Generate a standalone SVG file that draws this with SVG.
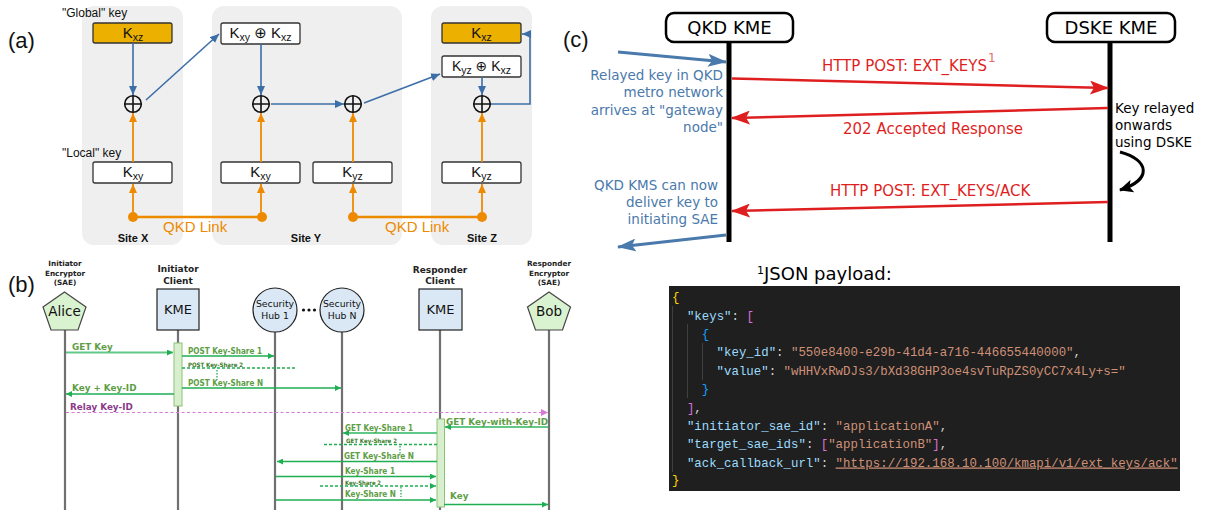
<svg xmlns="http://www.w3.org/2000/svg" width="1206" height="510" viewBox="0 0 1206 510">
<defs>
  <marker id="ahBlueA" markerUnits="userSpaceOnUse" markerWidth="9" markerHeight="8" refX="9" refY="4" orient="auto"><path d="M0,0 L9,4 L0,8 z" fill="#3C6EA8"/></marker>
  <marker id="ahOrange" markerUnits="userSpaceOnUse" markerWidth="9" markerHeight="8" refX="9" refY="4" orient="auto"><path d="M0,0 L9,4 L0,8 z" fill="#EE8A00"/></marker>
  <marker id="ahGreen" markerUnits="userSpaceOnUse" markerWidth="6" markerHeight="6" refX="6" refY="3" orient="auto"><path d="M0,0 L6,3 L0,6 z" fill="#1FAE52"/></marker>
  <marker id="ahPink" markerUnits="userSpaceOnUse" markerWidth="7" markerHeight="7" refX="7" refY="3.5" orient="auto"><path d="M0,0 L7,3.5 L0,7 z" fill="#D77BD7"/></marker>
  <marker id="ahRed" markerUnits="userSpaceOnUse" markerWidth="19" markerHeight="14" refX="18" refY="7" orient="auto"><path d="M0,0 L19,7 L0,14 L4,7 z" fill="#DF1F1F"/></marker>
  <marker id="ahBlueC" markerUnits="userSpaceOnUse" markerWidth="19" markerHeight="13" refX="18" refY="6.5" orient="auto"><path d="M0,0 L19,6.5 L0,13 L4,6.5 z" fill="#4A79AC"/></marker>
  <marker id="ahBlack" markerUnits="userSpaceOnUse" markerWidth="14" markerHeight="13" refX="13" refY="6.5" orient="auto"><path d="M0,0 L14,6.5 L0,13 L3,6.5 z" fill="#000"/></marker>
</defs>
<style>
  .panel{font-family:"Liberation Sans",Arial,sans-serif;font-size:22px;fill:#111}
  .site{fill:#EFEFEF}
  .kbox{fill:#fff;stroke:#333;stroke-width:1.3}
  .kgold{fill:#EBB000;stroke:#333;stroke-width:1.3}
  .kt{font-family:"Liberation Sans","DejaVu Sans",sans-serif;font-size:15px;fill:#111;text-anchor:middle}
  .sub{font-size:10.5px}
  .xor circle{fill:none;stroke:#111;stroke-width:1.6}
  .xor path{stroke:#111;stroke-width:1.6}
  .bl{stroke:#3C6EA8;stroke-width:1.6;fill:none}
  .orl{stroke:#EE8A00;stroke-width:1.8;fill:none}
  .link{stroke:#EE8A00;stroke-width:2.6}
  .odot{fill:#EE8A00}
  .lab{font-family:"Liberation Sans",Arial,sans-serif;font-size:12px;fill:#111}
  .sitet{font-family:"Liberation Sans",Arial,sans-serif;font-weight:bold;font-size:11px;fill:#111;text-anchor:middle}
  .qkd{font-family:"Liberation Sans",Arial,sans-serif;font-size:15px;fill:#EE8A00}
  .life{stroke:#707070;stroke-width:2.2}
  .act{fill:#D8EFCD;stroke:#8DC27B;stroke-width:1}
  .msg{stroke:#1FAE52;stroke-width:1.3;fill:none}
  .msgl{stroke:#62C887;stroke-width:2;fill:none}
  .dash{stroke-dasharray:3,2}
  .vdot{stroke:#1FAE52;stroke-width:1.3;stroke-dasharray:1.5,1.5}
  .relay{stroke:#D77BD7;stroke-width:1.2;stroke-dasharray:3,2.5;fill:none}
  .ml{font-family:"DejaVu Sans",Verdana,sans-serif;font-weight:bold;font-size:8.8px;fill:#5E9E45}
  .ms{font-size:8.4px}
  .mt{font-size:6px;fill:#3A7A28}
  .rl{fill:#8B3A8B}
  .hd{font-family:"DejaVu Sans",Verdana,sans-serif;font-weight:bold;text-anchor:middle;fill:#222}
  .nt{font-family:"DejaVu Sans",Verdana,sans-serif;text-anchor:middle;fill:#111}
  .kme{fill:#DAE8F5;stroke:#222;stroke-width:1.2}
  .hub{fill:#DAE8F5;stroke:#222;stroke-width:1.2}
  .sae{fill:#D9F2D0;stroke:#444;stroke-width:1.2}
  .hdr{fill:#fff;stroke:#000;stroke-width:2.5}
  .hdrt{font-family:"DejaVu Sans",Verdana,sans-serif;font-size:18px;fill:#000;text-anchor:middle}
  .thick{stroke:#000;stroke-width:5}
  .red{stroke:#DF1F1F;stroke-width:2.5;fill:none}
  .redt{font-family:"DejaVu Sans",Verdana,sans-serif;font-size:15px;fill:#DF1F1F}
  .bluec{stroke:#4A79AC;stroke-width:3;fill:none}
  .bluet{font-family:"DejaVu Sans",Verdana,sans-serif;font-size:13.5px;fill:#4A79AC;text-anchor:end}
  .blackt{font-family:"DejaVu Sans",Verdana,sans-serif;font-size:13.5px;fill:#000}
  .code{font-family:"Liberation Mono","DejaVu Sans Mono",monospace;font-size:12.4px;fill:#D4D4D4}
  .k{fill:#9CDCFE}
  .s{fill:#CE9178}
  .b1{fill:#FFD700}
  .b2{fill:#DA70D6}
  .b3{fill:#179FFF}
  .guide{stroke:#404040;stroke-width:1}
</style>

<!-- ================= (a) trusted-node key relay ================= -->
<text class="panel" x="8" y="48">(a)</text>
<g id="site-x">
  <rect class="site" x="82" y="6" width="101" height="239" rx="12"/>
  <text class="sitet" x="133" y="242">Site X</text>
</g>
<g id="site-y">
  <rect class="site" x="212" y="6" width="190" height="239" rx="12"/>
  <text class="sitet" x="306" y="242">Site Y</text>
</g>
<g id="site-z">
  <rect class="site" x="431" y="6" width="101" height="239" rx="12"/>
  <text class="sitet" x="482" y="242">Site Z</text>
</g>

<text class="lab" x="62" y="17">"Global" key</text>
<text class="lab" x="62" y="157">"Local" key</text>

<g id="x-kxz">
  <rect class="kgold" x="93" y="23" width="79" height="20" rx="2"/>
  <text class="kt" x="133" y="38">K<tspan class="sub" dy="3">xz</tspan></text>
</g>
<g id="x-kxy">
  <rect class="kbox" x="93" y="162" width="79" height="21" rx="2"/>
  <text class="kt" x="133" y="177">K<tspan class="sub" dy="3">xy</tspan></text>
</g>
<g id="y-kxy-kxz">
  <rect class="kbox" x="221" y="23" width="79" height="21" rx="2"/>
  <text class="kt" x="260.5" y="38">K<tspan class="sub" dy="3">xy</tspan><tspan dy="-3"> ⊕ K</tspan><tspan class="sub" dy="3">xz</tspan></text>
</g>
<g id="y-kxy">
  <rect class="kbox" x="221" y="162" width="79" height="21" rx="2"/>
  <text class="kt" x="260.5" y="177">K<tspan class="sub" dy="3">xy</tspan></text>
</g>
<g id="y-kyz">
  <rect class="kbox" x="313" y="162" width="79" height="21" rx="2"/>
  <text class="kt" x="352.5" y="177">K<tspan class="sub" dy="3">yz</tspan></text>
</g>
<g id="z-kxz">
  <rect class="kgold" x="442" y="23" width="79" height="20" rx="2"/>
  <text class="kt" x="481.5" y="38">K<tspan class="sub" dy="3">xz</tspan></text>
</g>
<g id="z-kyz-kxz">
  <rect class="kbox" x="442" y="56" width="79" height="21" rx="2"/>
  <text class="kt" x="481.5" y="71" style="font-size:14px">K<tspan class="sub" dy="3">yz</tspan><tspan dy="-3"> ⊕ K</tspan><tspan class="sub" dy="3">xz</tspan></text>
</g>
<g id="z-kyz">
  <rect class="kbox" x="442" y="162" width="79" height="21" rx="2"/>
  <text class="kt" x="481.5" y="177">K<tspan class="sub" dy="3">yz</tspan></text>
</g>

<g id="xor-x" class="xor"><circle cx="133" cy="104" r="8.3"/><path d="M124.7,104H141.3M133,95.7V112.3"/></g>
<g id="xor-y1" class="xor"><circle cx="261" cy="104" r="8.3"/><path d="M252.7,104H269.3M261,95.7V112.3"/></g>
<g id="xor-y2" class="xor"><circle cx="353" cy="104" r="8.3"/><path d="M344.7,104H361.3M353,95.7V112.3"/></g>
<g id="xor-z" class="xor"><circle cx="482" cy="104" r="8.3"/><path d="M473.7,104H490.3M482,95.7V112.3"/></g>

<g id="qkd-links">
  <path class="link" d="M133,217H262M353,217H482"/>
  <circle class="odot" cx="133" cy="217" r="5"/>
  <circle class="odot" cx="262" cy="217" r="5"/>
  <circle class="odot" cx="353" cy="217" r="5"/>
  <circle class="odot" cx="482" cy="217" r="5"/>
  <text class="qkd" x="163" y="232">QKD Link</text>
  <text class="qkd" x="385" y="232">QKD Link</text>
</g>

<g id="connectors-a">
  <path class="bl" d="M133,43V95" marker-end="url(#ahBlueA)"/>
  <path class="orl" d="M133,162V113" marker-end="url(#ahOrange)"/>
  <path class="orl" d="M133,212V184" marker-end="url(#ahOrange)"/>
  <path class="bl" d="M146,100L219,34" marker-end="url(#ahBlueA)"/>
  <path class="bl" d="M261,44V95" marker-end="url(#ahBlueA)"/>
  <path class="orl" d="M261,162V113" marker-end="url(#ahOrange)"/>
  <path class="orl" d="M261,212V184" marker-end="url(#ahOrange)"/>
  <path class="bl" d="M271,104H344" marker-end="url(#ahBlueA)"/>
  <path class="orl" d="M353,162V113" marker-end="url(#ahOrange)"/>
  <path class="orl" d="M353,212V184" marker-end="url(#ahOrange)"/>
  <path class="bl" d="M364,103L440,74" marker-end="url(#ahBlueA)"/>
  <path class="bl" d="M482,77V95" marker-end="url(#ahBlueA)"/>
  <path class="orl" d="M482,162V113" marker-end="url(#ahOrange)"/>
  <path class="orl" d="M482,212V184" marker-end="url(#ahOrange)"/>
  <path class="bl" d="M491,104H530V34H522" marker-end="url(#ahBlueA)"/>
</g>

<!-- ================= (b) DSKE message sequence ================= -->
<text class="panel" x="8" y="292">(b)</text>

<g id="lifelines-b">
  <path class="life" d="M65,330V510M178,330V510M275,332V510M342,332V510M440,330V510M549,330V510"/>
</g>

<g id="alice">
  <text class="hd" style="font-size:7.3px"><tspan x="65" y="266">Initiator</tspan><tspan x="65" y="276">Encryptor</tspan><tspan x="65" y="285">(SAE)</tspan></text>
  <polygon class="sae" points="64.5,292 86,307 78,330 51,330 43,307"/>
  <text class="nt" x="64.5" y="316" style="font-size:13.5px">Alice</text>
</g>
<g id="kme-initiator">
  <text class="hd" style="font-size:9px"><tspan x="178" y="272">Initiator</tspan><tspan x="178" y="284">Client</tspan></text>
  <rect class="kme" x="157" y="289" width="42" height="41"/>
  <text class="nt" x="178" y="314" style="font-size:13px">KME</text>
</g>
<g id="hub-1">
  <circle class="hub" cx="275" cy="310" r="22"/>
  <text class="nt" style="font-size:9.3px"><tspan x="275" y="307">Security</tspan><tspan x="275" y="319">Hub 1</tspan></text>
</g>
<g id="hub-ellipsis">
  <circle cx="303.5" cy="310" r="1.6" fill="#111"/>
  <circle cx="309" cy="310" r="1.6" fill="#111"/>
  <circle cx="314.5" cy="310" r="1.6" fill="#111"/>
</g>
<g id="hub-n">
  <circle class="hub" cx="342" cy="310" r="22"/>
  <text class="nt" style="font-size:9.3px"><tspan x="342" y="307">Security</tspan><tspan x="342" y="319">Hub N</tspan></text>
</g>
<g id="kme-responder">
  <text class="hd" style="font-size:9px"><tspan x="440" y="273">Responder</tspan><tspan x="440" y="284">Client</tspan></text>
  <rect class="kme" x="419" y="289" width="43" height="41"/>
  <text class="nt" x="440.5" y="314" style="font-size:13px">KME</text>
</g>
<g id="bob">
  <text class="hd" style="font-size:7.3px"><tspan x="549" y="266">Responder</tspan><tspan x="549" y="276">Encryptor</tspan><tspan x="549" y="285">(SAE)</tspan></text>
  <polygon class="sae" points="549,292 570.5,307 562.5,330 535.5,330 527.5,307"/>
  <text class="nt" x="549" y="316" style="font-size:13.5px">Bob</text>
</g>

<g id="activations">
  <rect class="act" x="174" y="343" width="8" height="63"/>
  <rect class="act" x="437" y="419" width="7.5" height="88"/>
</g>

<g id="messages-b">
  <path class="msgl" d="M66,352.5H173" marker-end="url(#ahGreen)"/>
  <path class="msg" d="M182,356H274" marker-end="url(#ahGreen)"/>
  <path class="msg dash" d="M182,368H295"/>
  <path class="vdot" d="M217,370V378"/>
  <path class="msg" d="M182,388H341" marker-end="url(#ahGreen)"/>
  <path class="msg" d="M174,394H66" marker-end="url(#ahGreen)"/>
  <path class="relay" d="M66,412.5H548" marker-end="url(#ahPink)"/>
  <path class="msgl" d="M548,427H445" marker-end="url(#ahGreen)"/>
  <path class="msgl" d="M437,433H343" marker-end="url(#ahGreen)"/>
  <path class="msg dash" d="M437,444.5H322"/>
  <path class="vdot" d="M400,446V455"/>
  <path class="msg" d="M437,461.5H277" marker-end="url(#ahGreen)"/>
  <path class="msg" d="M276,476.5H436" marker-end="url(#ahGreen)"/>
  <path class="msg dash" d="M320,486H436" marker-end="url(#ahGreen)"/>
  <path class="vdot" d="M401,487V497"/>
  <path class="msg" d="M276,500H436" marker-end="url(#ahGreen)"/>
  <path class="msg" d="M444,504.5H548" marker-end="url(#ahGreen)"/>
</g>
<g id="message-labels-b">
  <text class="ml" x="72" y="350">GET Key</text>
  <text class="ml ms" x="188" y="354" textLength="74" lengthAdjust="spacingAndGlyphs">POST Key-Share 1</text>
  <text class="ml mt" x="188" y="367" textLength="55" lengthAdjust="spacingAndGlyphs">POST Key-Share 2</text>
  <text class="ml ms" x="188" y="386" textLength="75" lengthAdjust="spacingAndGlyphs">POST Key-Share N</text>
  <text class="ml" x="72" y="391">Key + Key-ID</text>
  <text class="ml rl" x="70" y="410">Relay Key-ID</text>
  <text class="ml" x="446" y="425">GET Key-with-Key-ID</text>
  <text class="ml ms" x="345" y="431" textLength="68" lengthAdjust="spacingAndGlyphs">GET Key-Share 1</text>
  <text class="ml mt" x="346" y="443" textLength="51" lengthAdjust="spacingAndGlyphs">GET Key-Share 2</text>
  <text class="ml ms" x="344" y="459" textLength="70" lengthAdjust="spacingAndGlyphs">GET Key-Share N</text>
  <text class="ml ms" x="345" y="474" textLength="50" lengthAdjust="spacingAndGlyphs">Key-Share 1</text>
  <text class="ml mt" x="345" y="485" textLength="36" lengthAdjust="spacingAndGlyphs">Key-Share 2</text>
  <text class="ml ms" x="345" y="497" textLength="51" lengthAdjust="spacingAndGlyphs">Key-Share N</text>
  <text class="ml" x="450" y="499">Key</text>
</g>

<!-- ================= (c) ETSI 014 gateway exchange ================= -->
<text class="panel" x="563" y="47">(c)</text>

<g id="qkd-kme">
  <rect class="hdr" x="666" y="13" width="127" height="29" rx="8"/>
  <text class="hdrt" x="729.5" y="34">QKD KME</text>
  <path class="thick" d="M729,42V242"/>
</g>
<g id="dske-kme">
  <rect class="hdr" x="1047" y="13" width="128" height="29" rx="8"/>
  <text class="hdrt" x="1111" y="34">DSKE KME</text>
  <path class="thick" d="M1110,42V242"/>
</g>

<g id="connectors-c">
  <path class="bluec" d="M618,52L726,62" marker-end="url(#ahBlueC)"/>
  <path class="red" d="M732,78.5L1108,88" marker-end="url(#ahRed)"/>
  <path class="red" d="M1108,108L732,118" marker-end="url(#ahRed)"/>
  <path class="red" d="M1108,202L732,211" marker-end="url(#ahRed)"/>
  <path class="bluec" d="M726,235L618,247" marker-end="url(#ahBlueC)"/>
  <path d="M1120,152C1150,160 1152,180 1120,190" fill="none" stroke="#000" stroke-width="3" marker-end="url(#ahBlack)"/>
</g>

<g id="labels-c">
  <text class="redt" x="822" y="71">HTTP POST: EXT_KEYS<tspan dx="1" dy="-9" style="font-size:12px;fill:#E86A6A">1</tspan></text>
  <text class="redt" x="843" y="134">202 Accepted Response</text>
  <text class="redt" x="830" y="196">HTTP POST: EXT_KEYS/ACK</text>
  <text class="bluet"><tspan x="723" y="80">Relayed key in QKD</tspan><tspan x="723" y="97">metro network</tspan><tspan x="723" y="114.5">arrives at "gateway</tspan><tspan x="723" y="132">node"</tspan></text>
  <text class="bluet"><tspan x="718" y="190">QKD KMS can now</tspan><tspan x="718" y="207">deliver key to</tspan><tspan x="718" y="224">initiating SAE</tspan></text>
  <text class="blackt"><tspan x="1115" y="113">Key relayed</tspan><tspan x="1115" y="130">onwards</tspan><tspan x="1115" y="147">using DSKE</tspan></text>
</g>

<!-- ================= JSON payload listing ================= -->
<g id="json-payload">
  <text class="blackt" x="757" y="280" style="font-size:18px"><tspan style="font-size:11px" dy="-6">1</tspan><tspan dy="6">JSON payload:</tspan></text>
  <rect x="669" y="286" width="511" height="205" fill="#1F1F1F"/>
  <path class="guide" d="M672.5,306V472M687.5,324V398M702.5,343V380"/>
  <g class="code">
    <text x="672" y="301"><tspan class="b1">{</tspan></text>
    <text x="686.9" y="319.5"><tspan class="k">"keys"</tspan>: <tspan class="b2">[</tspan></text>
    <text x="701.8" y="338"><tspan class="b3">{</tspan></text>
    <text x="716.6" y="356"><tspan class="k">"key_id"</tspan>: <tspan class="s">"550e8400-e29b-41d4-a716-446655440000"</tspan>,</text>
    <text x="716.6" y="374.5"><tspan class="k">"value"</tspan>: <tspan class="s">"wHHVxRwDJs3/bXd38GHP3oe4svTuRpZS0yCC7x4Ly+s="</tspan></text>
    <text x="701.8" y="393"><tspan class="b3">}</tspan></text>
    <text x="686.9" y="411.5"><tspan class="b2">]</tspan>,</text>
    <text x="686.9" y="430"><tspan class="k">"initiator_sae_id"</tspan>: <tspan class="s">"applicationA"</tspan>,</text>
    <text x="686.9" y="448"><tspan class="k">"target_sae_ids"</tspan>: <tspan class="b2">[</tspan><tspan class="s">"applicationB"</tspan><tspan class="b2">]</tspan>,</text>
    <text x="686.9" y="466.5"><tspan class="k">"ack_callback_url"</tspan>: <tspan class="s" text-decoration="underline">"https://192.168.10.100/kmapi/v1/ext_keys/ack"</tspan></text>
    <text x="672" y="484"><tspan class="b1">}</tspan></text>
  </g>
</g>
</svg>
